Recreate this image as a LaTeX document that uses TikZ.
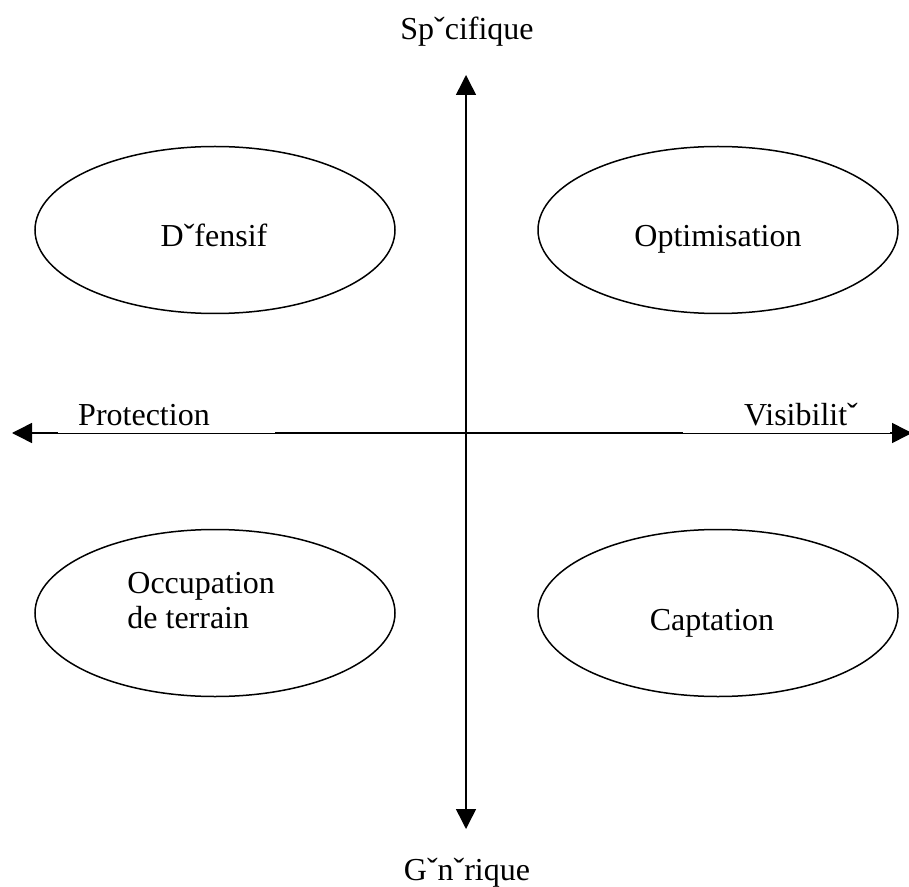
\documentclass[tikz,border=0pt]{standalone}
\usepackage{fontspec}
\setmainfont{Liberation Serif}
\usetikzlibrary{arrows.meta,shapes.geometric}
\tikzset{
  axe/.style={line width=0.75pt,{Triangle[length=10pt,width=10pt]}-{Triangle[length=10pt,width=10pt]}},
  zone/.style={draw,ellipse,line width=0.75pt,minimum width=180pt,minimum height=83.5pt,inner sep=0pt},
  lbl/.style={inner sep=0pt,font=\fontsize{16pt}{17.5pt}\selectfont}
}
\begin{document}
\begin{tikzpicture}[x=0.5pt,y=-0.5pt]
\useasboundingbox (0,0) rectangle (909,887);
\begin{scope}
  \coordinate (haut) at (466,75);\coordinate (bas) at (466,829);
  \coordinate (gauche) at (12,433);\coordinate (droite) at (912,433);
  \draw[axe] (haut) -- (bas);\draw[axe] (gauche) -- (droite);
  \fill[white] (58,433) rectangle (275,398);\fill[white] (683,433) rectangle (890,398);
\end{scope}
\begin{scope}
  \node[zone] (def) at (215,230) {};\node[zone] (opt) at (718,230) {};
  \node[zone] (occ) at (215,613) {};\node[zone] (cap) at (718,613) {};
\end{scope}
\begin{scope}[lbl]
  \node[lbl,anchor=base] (spec) at (467,40) {Spˇcifique};
  \node[lbl,anchor=base] (gen) at (467,880) {Gˇnˇrique};
  \node[lbl,anchor=base] (prot) at (144,425) {Protection};
  \node[lbl,anchor=base] (vis) at (801,425) {Visibilitˇ};
  \node[lbl,anchor=base] (tdef) at (214,247) {Dˇfensif};
  \node[lbl,anchor=base] (topt) at (718,247) {Optimisation};
  \node[lbl,anchor=base] (tcap) at (712,630) {Captation};
  \node[lbl,anchor=base west,align=left] (tocc) at (127,628) {Occupation\\de terrain};
\end{scope}
\end{tikzpicture}
\end{document}
